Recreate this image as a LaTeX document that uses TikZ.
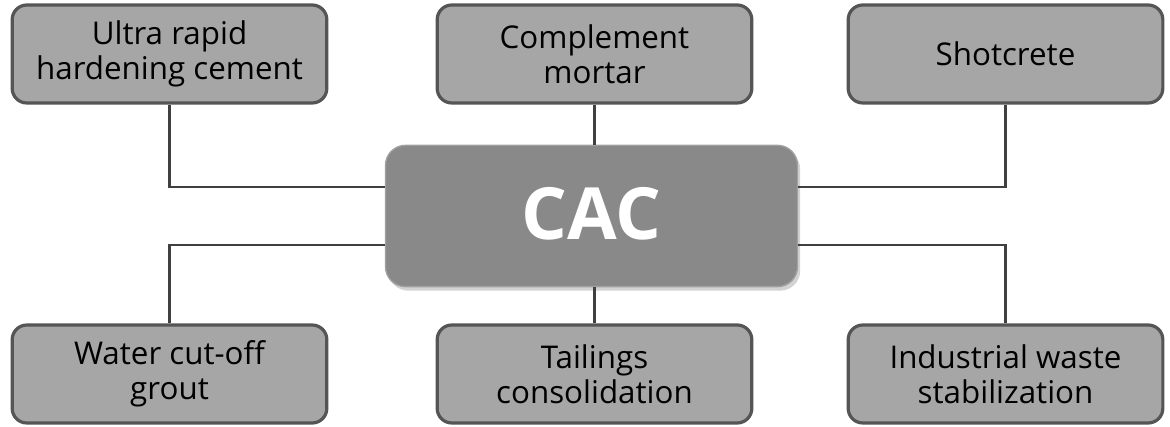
\documentclass[tikz,border=0pt]{standalone}
\usepackage{fontspec}
\setmainfont{Open Sans}
\usetikzlibrary{shadows}

\definecolor{boxfill}{HTML}{A6A6A6}
\definecolor{boxline}{HTML}{555555}
\definecolor{cacfill}{HTML}{898989}
\definecolor{linkcol}{HTML}{404040}

\tikzset{
    appbox/.style={draw=boxline, fill=boxfill, line width=2.4pt, rounded corners=11pt,
        minimum width=236pt, minimum height=73.5pt, inner sep=0pt, align=center,
        font=\fontsize{23.5}{26.3}\selectfont, text=black},
    cacbox/.style={draw=cacfill!80!white, fill=cacfill, line width=1pt, rounded corners=15pt,
        minimum width=309pt, minimum height=106pt, inner sep=0pt,
        font=\fontsize{54}{60}\selectfont\bfseries, text=white,
        drop shadow={shadow xshift=2pt, shadow yshift=-3pt, opacity=0.35}},
    link/.style={draw=linkcol, line width=2pt}
}

\begin{document}
\begin{tikzpicture}[x=0.75pt, y=-0.75pt]
    \useasboundingbox (0,0) rectangle (1170,427);
    % Centre
    \node[cacbox] (cac) at (591.5,216) {\raisebox{4pt}{CAC}};
    % Applications, top row
    \node[appbox] (urhc) at (169.5,54) {Ultra rapid\\hardening cement};
    \node[appbox] (cmor) at (594.5,54) {Complement\\mortar};
    \node[appbox] (shot) at (1005.5,54) {Shotcrete};
    % Applications, bottom row
    \node[appbox] (wcog) at (169.5,374) {Water cut-off\\grout};
    \node[appbox] (tail) at (594.5,374) {Tailings\\consolidation};
    \node[appbox] (iwst) at (1005.5,374) {Industrial waste\\stabilization};
    % Links
    \draw[link] (urhc.south) |- ([yshift=21.75pt]cac.west);
    \draw[link] (cmor.south) -- (cmor.south |- cac.north);
    \draw[link] (shot.south) |- ([yshift=21.75pt]cac.east);
    \draw[link] (wcog.north) |- ([yshift=-21.75pt]cac.west);
    \draw[link] (tail.north) -- (tail.north |- cac.south);
    \draw[link] (iwst.north) |- ([yshift=-21.75pt]cac.east);
\end{tikzpicture}
\end{document}
